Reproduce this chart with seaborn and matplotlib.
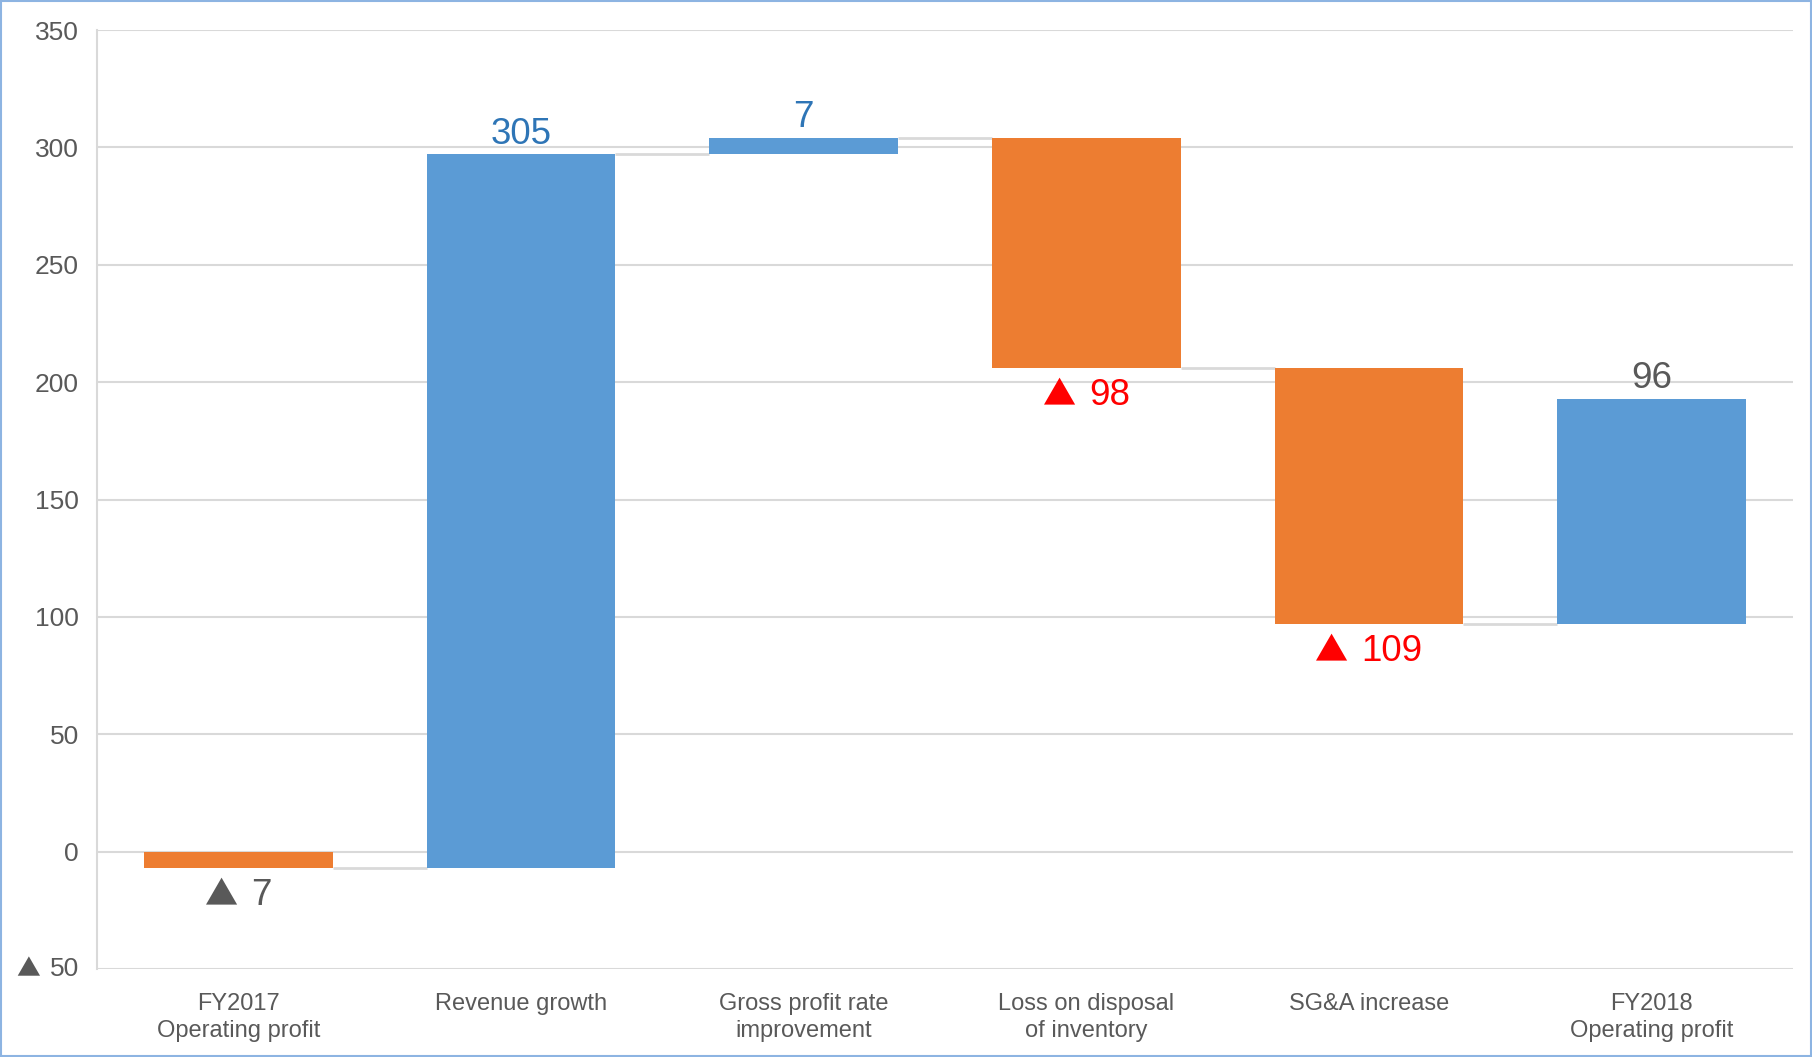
import matplotlib
matplotlib.use("Agg")
import matplotlib.pyplot as plt
import seaborn as sns
import pandas as pd
import numpy as np
from matplotlib.patches import Rectangle
from matplotlib.offsetbox import TextArea, HPacker, AnnotationBbox

# ---- data ----
categories = ["FY2017\nOperating profit", "Revenue growth", "Gross profit rate\nimprovement",
              "Loss on disposal\nof inventory", "SG&A increase", "FY2018\nOperating profit"]
bar_start = [0, -7, 297, 304, 206, 97]
bar_end = [-7, 297, 304, 206, 97, 193]
value_labels = ["▲ 7", "305", "7", "▲ 98", "▲ 109", "96"]
label_colors = ["#595959", "#2E75B6", "#2E75B6", "#FF0000", "#FF0000", "#595959"]
bar_colors = ["#ED7D31", "#5B9BD5", "#5B9BD5", "#ED7D31", "#ED7D31", "#5B9BD5"]
y_ticks = [-50, 0, 50, 100, 150, 200, 250, 300, 350]
y_tick_labels = ["▲ 50", "0", "50", "100", "150", "200", "250", "300", "350"]

sns.set_theme(style="white")
plt.rcParams["font.family"] = ["Liberation Sans", "DejaVu Sans"]
TRI_FONT = ["Noto Sans CJK JP", "DejaVu Sans"]
NUM_FONT = ["Liberation Sans", "DejaVu Sans"]

df = pd.DataFrame({"cat": categories, "start": bar_start, "end": bar_end})
df["height"] = df["end"] - df["start"]

fig = plt.figure(figsize=(18.12, 10.57), dpi=100)
ax = fig.add_axes([97 / 1812, (1057 - 969) / 1057, (1793 - 97) / 1812, (969 - 30) / 1057])

W = 0.667
sns.barplot(data=df, x="cat", y="height", bottom=df["start"].to_numpy(), width=W,
            errorbar=None, ax=ax, color="#5B9BD5", linewidth=0)
for p, c in zip(ax.patches, bar_colors):
    p.set_facecolor(c)
    p.set_edgecolor("none")
    p.set_zorder(3)

# connectors
for i in range(len(categories) - 1):
    ax.hlines(bar_end[i], i + W / 2, i + 1 - W / 2, color="#D9D9D9", lw=2, zorder=2)


def tri_label(txt, color, size):
    """Return an offsetbox with a large triangle + number."""
    num = txt.replace("▲", "").strip()
    parts = [TextArea("▲", textprops=dict(family=TRI_FONT, size=size * 0.9, color=color)),
             TextArea(num, textprops=dict(family=NUM_FONT, size=size, color=color))]
    return HPacker(children=parts, align="baseline", pad=0, sep=size * 0.36)


VSIZE = 26.5
for i, (txt, col) in enumerate(zip(value_labels, label_colors)):
    lo = min(bar_start[i], bar_end[i])
    hi = max(bar_start[i], bar_end[i])
    if txt.startswith("▲"):
        box = tri_label(txt, col, VSIZE)
        ab = AnnotationBbox(box, (i, lo), xybox=(0, -7), boxcoords="offset points",
                            box_alignment=(0.5, 1.0), frameon=False, pad=0, zorder=5)
        ax.add_artist(ab)
    else:
        ax.annotate(txt, (i, hi), xytext=(0, 2), textcoords="offset points",
                    ha="center", va="bottom", fontsize=VSIZE, color=col, zorder=5)

ax.set_ylim(-50, 350)
ax.set_xlim(-0.5, len(categories) - 0.5)
ax.set_yticks(y_ticks)
ax.set_yticklabels([("" if t.startswith("▲") else t) for t in y_tick_labels])
ax.set_xlabel("")
ax.set_ylabel("")
ax.yaxis.grid(True, color="#D9D9D9", lw=1.5, zorder=0)
ax.set_axisbelow(True)
ax.tick_params(axis="y", length=0, pad=13, labelsize=19, labelcolor="#595959")
ax.tick_params(axis="x", length=0, pad=17, labelsize=17, labelcolor="#595959")
for lab in ax.get_xticklabels():
    lab.set_linespacing(1.32)
for s in ["top", "right", "bottom"]:
    ax.spines[s].set_visible(False)
ax.spines["left"].set_color("#D9D9D9")
ax.spines["left"].set_linewidth(1.5)

# negative tick label with triangle
for t, lab in zip(y_ticks, y_tick_labels):
    if lab.startswith("▲"):
        box = tri_label(lab, "#595959", 19)
        ab = AnnotationBbox(box, (0, t), xycoords=ax.get_yaxis_transform(),
                            xybox=(-13, 0), boxcoords="offset points",
                            box_alignment=(1.0, 0.5), frameon=False, pad=0,
                            annotation_clip=False)
        ax.add_artist(ab)

# figure border
fig.patches.append(Rectangle((0.0008, 0.0008), 0.9984, 0.9984, transform=fig.transFigure,
                             fill=False, edgecolor="#8DB4E2", lw=1.5))

fig.savefig("out.png", dpi=100)
